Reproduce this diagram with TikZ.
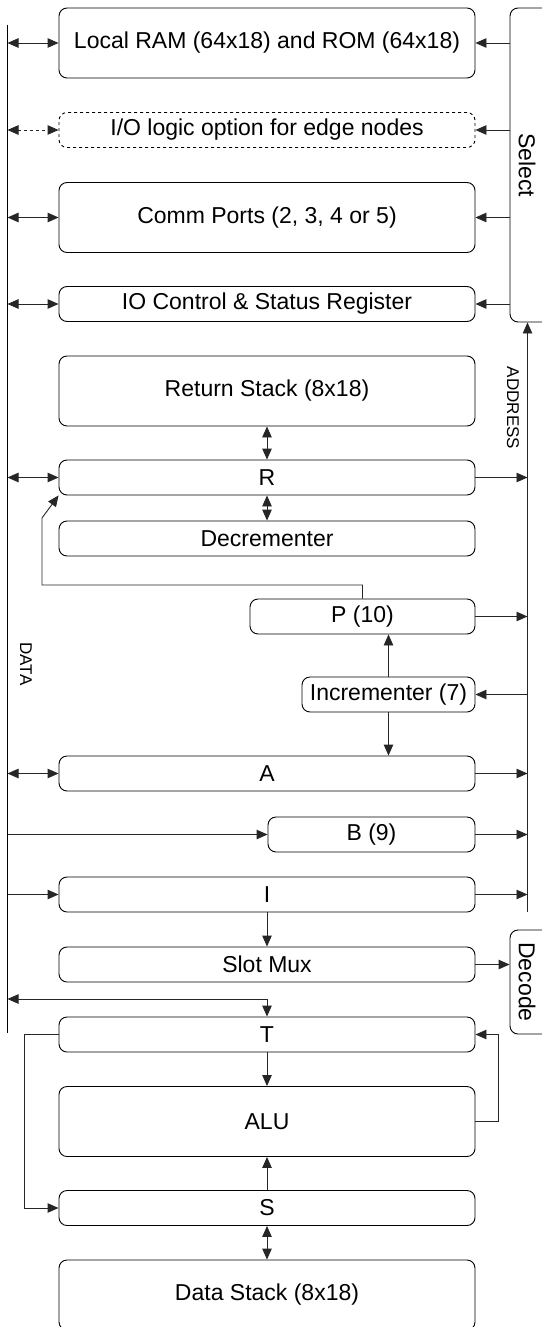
\documentclass[tikz,border=0pt]{standalone}
\usepackage{fontspec}
\setmainfont{Liberation Sans}
\usetikzlibrary{arrows.meta}
\begin{document}
\begin{tikzpicture}[x=1pt,y=-1pt,
  box/.style={draw=black, rounded corners=8pt, line width=0.9pt, inner sep=0pt,
    font=\fontsize{23}{27}\selectfont, minimum height=35pt},
  wide/.style={minimum width=416pt},
  tall/.style={minimum height=70pt},
  lbl/.style={font=\fontsize{23}{27}\selectfont, inner sep=0pt},
  small/.style={font=\fontsize{17}{20}\selectfont, inner sep=0pt},
  tip/.style={Triangle[length=11pt,width=9.5pt]},
  conn/.style={draw=black!85, line width=0.9pt, -{Triangle[length=11pt,width=9.5pt]}},
  dconn/.style={draw=black!85, line width=0.9pt, {Triangle[length=11pt,width=9.5pt]}-{Triangle[length=11pt,width=9.5pt]}},
  bus/.style={draw=black, line width=0.9pt}]
\useasboundingbox (0,0) rectangle (541,1327);

% boxes
\node[box,wide,tall] (ram) at (267,43) {Local RAM (64x18) and ROM (64x18)};
\node[box,wide,dashed] (iol) at (267,130) {I/O logic option for edge nodes};
\node[box,wide,tall] (comm) at (267,217.5) {Comm Ports (2, 3, 4 or 5)};
\node[box,wide] (ioc) at (267,304) {IO Control \& Status Register};
\node[box,wide,tall] (rs) at (267,391) {Return Stack (8x18)};
\node[box,wide] (R) at (267,477.5) {R};
\node[box,wide] (dec) at (267,538.5) {Decrementer};
\node[box,minimum width=225pt] (P) at (362.5,616.5) {P (10)};
\node[box,minimum width=173pt] (inc) at (388.5,694.5) {Incrementer (7)};
\node[box,wide] (A) at (267,773.5) {A};
\node[box,minimum width=207pt] (B) at (371.5,834.5) {B (9)};
\node[box,wide] (I) at (267,894.5) {I};
\node[box,wide] (mux) at (267,964.5) {Slot Mux};
\node[box,wide] (T) at (267,1034.5) {T};
\node[box,wide,tall] (alu) at (267,1121.5) {ALU};
\node[box,wide] (S) at (267,1208) {S};
\node[box,wide,tall] (ds) at (267,1295) {Data Stack (8x18)};

% select and decode (right edges run off the page)
\node[box,minimum width=42pt,minimum height=314pt] (sel) at (531,165) {};
\node[lbl,rotate=-90] (seltxt) at (527,165) {Select};
\node[box,minimum width=42pt,minimum height=104pt] (decode) at (531,982) {};
\node[lbl,rotate=-90] (dectxt) at (527,982) {Decode};

% buses
\coordinate (dtop) at (7.5,25);
\coordinate (dbot) at (7.5,1033);
\draw[bus] (dtop) -- (dbot);
\coordinate (abot) at (527.5,912);
\draw[conn] (abot) -- (abot |- sel.south);
\node[small,rotate=-90] (addr) at (513,408) {ADDRESS};
\node[small,rotate=-90] (data) at (26,664) {DATA};

% data bus connections
\draw[dconn] (ram.west -| dtop) -- (ram.west);
\draw[dconn,dashed] (iol.west -| dtop) -- (iol.west);
\draw[dconn] (comm.west -| dtop) -- (comm.west);
\draw[dconn] (ioc.west -| dtop) -- (ioc.west);
\draw[dconn] (R.west -| dtop) -- (R.west);
\draw[dconn] (A.west -| dtop) -- (A.west);
\draw[conn] (B.west -| dtop) -- (B.west);
\draw[conn] (I.west -| dtop) -- (I.west);

% select connections
\draw[conn] (ram.east -| sel.west) -- (ram.east);
\draw[conn] (iol.east -| sel.west) -- (iol.east);
\draw[conn] (comm.east -| sel.west) -- (comm.east);
\draw[conn] (ioc.east -| sel.west) -- (ioc.east);

% address connections
\draw[conn] (R.east) -- (R.east -| abot);
\draw[conn] (P.east) -- (P.east -| abot);
\draw[conn] (inc.east -| abot) -- (inc.east);
\draw[conn] (A.east) -- (A.east -| abot);
\draw[conn] (B.east) -- (B.east -| abot);
\draw[conn] (I.east) -- (I.east -| abot);

% return stack area
\draw[dconn] (rs.south) -- (R.north);
\draw[dconn] (R.south) -- (dec.north);
\coordinate (pbend) at (42,585);
\coordinate (pknee) at (42,518);
\draw[conn] (P.north) -- (P.north |- pbend) -- (pbend) -- (pknee) -- (R.south west);
\draw[conn] (inc.north) -- (inc.north |- P.south);
\draw[conn] (inc.south) -- (inc.south |- A.north);

% instruction path
\draw[conn] (I.south) -- (mux.north);
\draw[conn] (mux.east) -- (mux.east -| decode.west);

% data stack area
\coordinate (tj) at (7.5,999);
\draw[dconn] (tj) -| (T.north);
\draw[conn] (T.south) -- (alu.north);
\draw[conn] (S.north) -- (alu.south);
\draw[dconn] (S.south) -- (ds.north);
\draw[conn] (T.west) -- ++(-34,0) |- (S.west);
\draw[conn] (alu.east) -- ++(23,0) |- (T.east);
\end{tikzpicture}
\end{document}
